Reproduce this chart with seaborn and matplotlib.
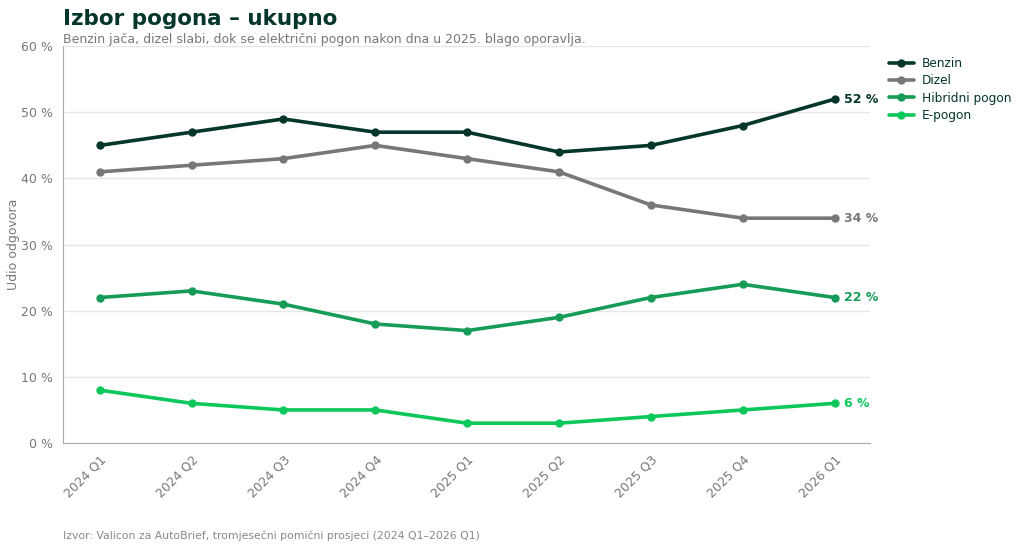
import pandas as pd
import matplotlib
matplotlib.use('Agg')
import matplotlib.pyplot as plt
import seaborn as sns
from matplotlib.ticker import FuncFormatter

quarters = ["2024 Q1", "2024 Q2", "2024 Q3", "2024 Q4", "2025 Q1",
            "2025 Q2", "2025 Q3", "2025 Q4", "2026 Q1"]
benzin = [45, 47, 49, 47, 47, 44, 45, 48, 52]
dizel = [41, 42, 43, 45, 43, 41, 36, 34, 34]
hibridni = [22, 23, 21, 18, 17, 19, 22, 24, 22]
epogon = [8, 6, 5, 5, 3, 3, 4, 5, 6]

series = {"Benzin": benzin, "Dizel": dizel, "Hibridni pogon": hibridni, "E-pogon": epogon}
colors = {"Benzin": "#05362b", "Dizel": "#777777", "Hibridni pogon": "#169c57", "E-pogon": "#0cc85a"}

rows = []
for name, vals in series.items():
    for i, v in enumerate(vals):
        rows.append({"q": i, "kvartal": quarters[i], "pogon": name, "udio": v})
df = pd.DataFrame(rows)

sns.set_style("white")
plt.rcParams['font.family'] = ['DejaVu Sans']

fig = plt.figure(figsize=(10.24, 5.5), dpi=100)
ax = fig.add_axes([0.0615, 0.1945, 0.7885, 0.7215])

sns.lineplot(data=df, x="q", y="udio", hue="pogon", palette=colors, marker="o",
             markersize=6, markeredgewidth=0, linewidth=2.6, ax=ax)

ax.set_ylim(0, 60)
ax.set_xlim(-0.4, 8.39)
ax.set_xticks(range(len(quarters)))
ax.set_xticklabels(quarters, rotation=45, ha="right", rotation_mode="anchor")
ax.set_yticks(range(0, 61, 10))
ax.yaxis.set_major_formatter(FuncFormatter(lambda v, p: f"{int(v)} %"))
ax.tick_params(axis="both", colors="#777777", labelsize=9, length=4, pad=3, direction="out")
ax.tick_params(axis="both", color="#aaaaaa")
ax.set_xlabel("")
ax.set_ylabel("Udio odgovora", color="#777777", fontsize=9)
ax.yaxis.set_label_coords(-0.053, 0.5)
ax.grid(axis="y", color="#e6e6e6", linewidth=1)
ax.set_axisbelow(True)
for s in ["top", "right"]:
    ax.spines[s].set_visible(False)
for s in ["left", "bottom"]:
    ax.spines[s].set_color("#aaaaaa")

# end labels
for name, vals in series.items():
    ax.annotate(f"{vals[-1]} %", (len(vals) - 1, vals[-1]), xytext=(7, 0),
                textcoords="offset points", va="center", ha="left",
                color=colors[name], fontsize=9, fontweight="bold")

leg = ax.legend(loc="upper left", bbox_to_anchor=(1.01, 1.0), frameon=False,
                fontsize=8.7, handlelength=2.0, handletextpad=0.7, labelspacing=0.35)
for t in leg.get_texts():
    t.set_color("#05362b")

fig.text(0.0615, 0.965, "Izbor pogona – ukupno", fontsize=15.5, fontweight="bold",
         color="#05362b", ha="left", va="center")
fig.text(0.0615, 0.929, "Benzin jača, dizel slabi, dok se električni pogon nakon dna u 2025. blago oporavlja.",
         fontsize=9, color="#777777", ha="left", va="center")
fig.text(0.0615, 0.026, "Izvor: Valicon za AutoBrief, tromjesečni pomični prosjeci (2024 Q1–2026 Q1)",
         fontsize=7.8, color="#888888", ha="left", va="center")

fig.savefig("out.png", dpi=100)
